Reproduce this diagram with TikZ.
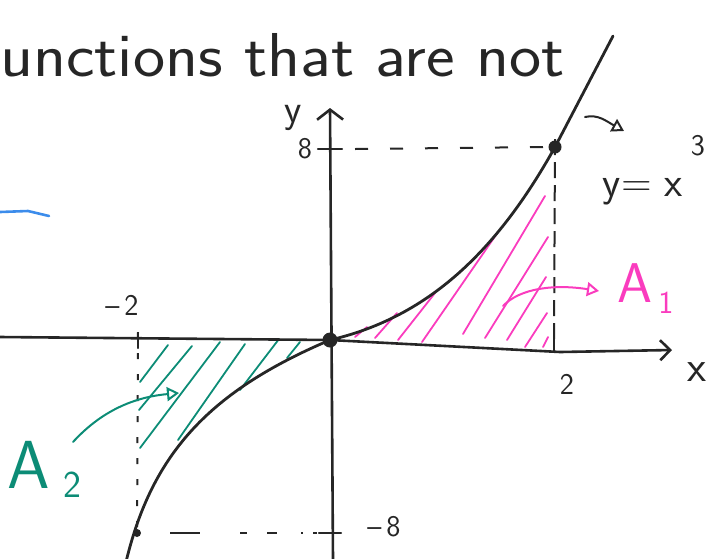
\documentclass[tikz,border=0pt]{standalone}
\usetikzlibrary{arrows.meta}
\definecolor{ink}{RGB}{38,38,38}
\definecolor{tealpen}{RGB}{12,140,118}
\definecolor{pinkpen}{RGB}{250,60,190}
\definecolor{bluepen}{RGB}{60,140,235}
\newcommand{\fs}[1]{\fontsize{#1}{#1}\selectfont}
\begin{document}
\begin{tikzpicture}[x=1pt,y=-1pt,
  axis/.style={ink, line width=2.6pt, line cap=round},
  graph/.style={ink, line width=2.8pt, line cap=round},
  tickmark/.style={ink, line width=2.4pt, line cap=round},
  guideh/.style={ink, line width=2pt, dash pattern=on 13pt off 22pt},
  guidev/.style={ink, line width=2pt, dash pattern=on 16pt off 7pt},
  guidevl/.style={ink, line width=2pt, dash pattern=on 6pt off 15pt},
  hatchA/.style={tealpen, line width=1.8pt, line cap=round},
  hatchB/.style={pinkpen, line width=1.8pt, line cap=round},
  pointer/.style={line width=2pt, line cap=round, -{Triangle[open,length=12pt,width=14pt,line width=2pt]}},
  lbl/.style={ink, inner sep=0pt, font=\sffamily\fs{30}},
  dot/.style={circle, fill=ink, inner sep=0pt}
]
\useasboundingbox (0,0) rectangle (706,558);
\clip (0,0) rectangle (706,558);

% key points
\coordinate (O) at (330,340);
\coordinate (xl) at (0,337);
\coordinate (xm) at (560,352);
\coordinate (xr) at (672,350);
\coordinate (yt) at (330,108);
\coordinate (yb) at (333,560);
\coordinate (P) at (555,147);
\coordinate (Q) at (137,533);
\coordinate (ctop) at (613,36);
\coordinate (cbot) at (126,562);

% top handwriting
\node[ink, inner sep=0pt, anchor=base west, xscale=1.1, font=\sffamily\fs{62}] (title) at (0,76) {unctions that are not};
% blue stroke
\coordinate (b1) at (0,212);
\coordinate (b2) at (49,216);
\draw[bluepen, line width=2.6pt, line cap=round, line join=round] (b1) -- (28,211) -- (b2);

% hatching (behind curve)
\foreach \a/\b in {{(168,345)}/{(140,382)}, {(192,346)}/{(139,410)}, {(220,342)}/{(140,448)}, {(245,344)}/{(178,440)}, {(279,339)}/{(240,390)}, {(300,342)}/{(287,358)}}
  \draw[hatchA] \a -- \b;
\foreach \a/\b in {{(367,327)}/{(355,337)}, {(397,313)}/{(375,338)}, {(435,293)}/{(398,340)}, {(498,232)}/{(422,342)}, {(545,196)}/{(463,334)}, {(548,237)}/{(485,338)}, {(546,277)}/{(507,340)}, {(547,313)}/{(525,347)}, {(548,337)}/{(543,347)}}
  \draw[hatchB] \a -- \b;

% guides
\coordinate (y8) at (330,149);
\coordinate (ym8) at (333,533);
\coordinate (x2) at (554,345);
\coordinate (xm2) at (138,340);
\draw[guideh] ([xshift=25pt]y8) -- ([xshift=-8pt]P);
\draw[guidev] ([yshift=8pt]P) -- (x2);
\draw[guidevl] ([yshift=8pt]xm2) -- ([yshift=-6pt]Q);
\draw[ink, line width=2pt, dash pattern=on 30pt off 40pt on 7pt off 20pt on 10pt off 24pt on 2pt off 10pt] ([xshift=33pt]Q) -- ([xshift=-16pt]ym8);

% axes
\draw[axis, -{Straight Barb[length=10pt,width=20pt,line width=2.6pt]}] (xl) -- (O) -- (xm) -- (xr);
\draw[axis, {Straight Barb[length=10pt,width=26pt,line width=2.6pt]}-] (yt) -- (yb);

% ticks
\draw[tickmark] ([xshift=-12pt]y8) -- ([xshift=12pt]y8);
\draw[tickmark] ([xshift=-14pt]ym8) -- ([xshift=8pt]ym8);
\draw[tickmark] ([yshift=-6pt]x2) -- ([yshift=18pt]x2);
\draw[tickmark] ([yshift=-8pt]xm2) -- ([yshift=7pt]xm2);

% the curve y = x^3
\draw[graph] (cbot) .. controls (152,453) and (210,391) .. (O)
  .. controls (425,318) and (495,255) .. (P) -- (ctop);

% dots
\node[dot, minimum size=15pt] (Odot) at (O) {};
\node[dot, minimum size=13pt] (Pdot) at (P) {};
\node[dot, minimum size=8pt] (Qdot) at (Q) {};

% labels
\node[lbl, font=\sffamily\fs{40}] (ylab) at (293,118) {y};
\node[lbl, font=\sffamily\fs{30}] (l8) at (305,149) {8};
\node[lbl, font=\sffamily\fs{30}] (lm8) at (384,527) {\textendash\,8};
\node[lbl, font=\sffamily\fs{30}] (lm2) at (122,305) {\textendash\,2};
\node[lbl, font=\sffamily\fs{30}] (l2) at (567,384) {2};
\node[lbl, font=\sffamily\fs{44}] (xlab) at (697,372) {x};
\node[lbl, font=\sffamily\fs{42}] (fn) at (643,192) {y= x};
\node[lbl, font=\sffamily\fs{30}] (fn3) at (698,146) {3};

% pointer to the curve
\coordinate (fs) at (585,117);
\coordinate (fe) at (624,131);
\draw[pointer, ink] (fs) .. controls (598,114) and (606,121) .. (fe);

% A1
\node[inner sep=0pt, pinkpen, font=\sffamily\fs{56}] (A1) at (635,283) {A};
\node[inner sep=0pt, pinkpen, font=\sffamily\fs{32}] (A1s) at (666,303) {1};
\coordinate (a1s) at (503,306);
\coordinate (a1e) at (599,291);
\draw[pointer, pinkpen] (a1s) .. controls (520,288) and (555,284) .. (a1e);

% A2
\node[inner sep=0pt, tealpen, font=\sffamily\fs{68}] (A2) at (29,465) {A};
\node[inner sep=0pt, tealpen, font=\sffamily\fs{38}] (A2s) at (72,485) {2};
\coordinate (a2s) at (73,442);
\coordinate (a2e) at (179,393);
\draw[pointer, tealpen] (a2s) .. controls (95,418) and (125,398) .. (a2e);
\end{tikzpicture}
\end{document}
